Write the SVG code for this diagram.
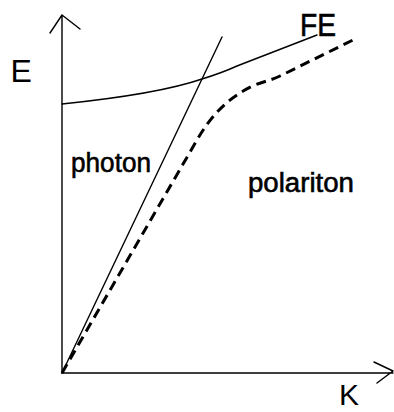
<svg xmlns="http://www.w3.org/2000/svg" width="394" height="412" viewBox="0 0 394 412">
<style>
.ln{fill:none;stroke:#000;stroke-width:1.4;stroke-linejoin:round;stroke-linecap:round}
.ds{fill:none;stroke:#000;stroke-width:3;stroke-dasharray:10 6}
.t{font-family:"Liberation Sans",Arial,sans-serif;fill:#000}
.h{stroke:#000;stroke-width:0.6}
</style>
<rect width="394" height="412" fill="#fff"/>
<g id="axes">
<path class="ln" d="M62,373 V15 M50,33 L62,15 L80,29"/>
<path class="ln" d="M62,373 H393 M374,362 L393,371 L377,383"/>
</g>
<g id="connectors">
<path id="photon-line" class="ln" d="M62,373 L222,37"/>
<path id="fe-curve" class="ln" d="M62,104 C120,98 170,90 202,79 C215,75 226,71 237,66 L317,35"/>
<path id="polariton-curve" class="ds" d="M62,373 L197,140 C212,114 230,96 255,85 C265,81 272,80 280,76 L357,38"/>
</g>
<g id="labels">
<text class="t" x="10.5" y="82" font-size="32">E</text>
<text class="t" x="339" y="405" font-size="30">K</text>
<text class="t h" x="300" y="36" font-size="32" textLength="36" lengthAdjust="spacingAndGlyphs">FE</text>
<text class="t h" x="71" y="172" font-size="27" textLength="80" lengthAdjust="spacingAndGlyphs">photon</text>
<text class="t h" x="248" y="192" font-size="27" textLength="106" lengthAdjust="spacingAndGlyphs">polariton</text>
</g>
</svg>
